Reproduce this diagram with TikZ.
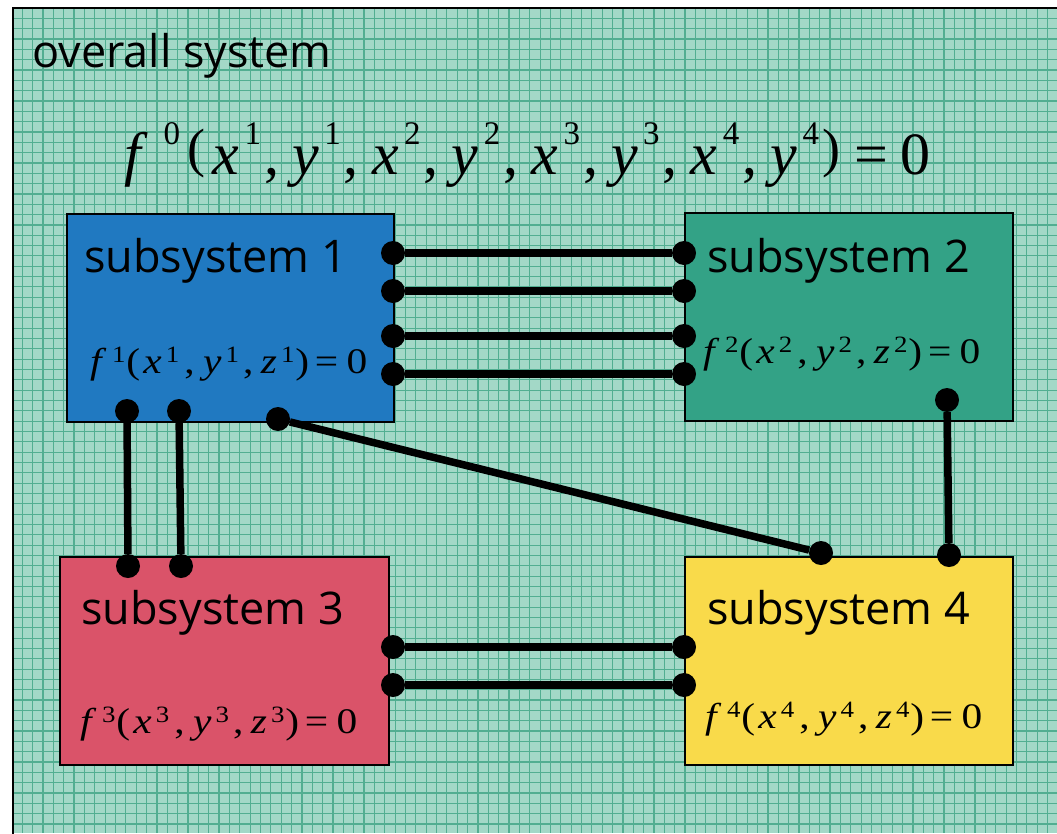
\documentclass[tikz,border=0pt]{standalone}
\usepackage{fontspec}
\setmainfont{Open Sans}
\newfontfamily\tms{Liberation Serif}
\definecolor{bgc}{HTML}{A3D8C7}
\definecolor{gridc}{HTML}{52AE91}
\definecolor{cblue}{HTML}{2079C1}
\definecolor{cgreen}{HTML}{33A286}
\definecolor{cred}{HTML}{DA5369}
\definecolor{cyellow}{HTML}{F9DA4A}
% small equations
\newcommand\ssp[1]{\raisebox{0.3em}{\scalebox{0.65}{#1}}}
\newcommand\smeq[1]{\scalebox{1.15}[1]{{\itshape f}\kern0.25em\ssp{#1}\kern0.02em(\kern0.08em{\itshape x}\kern0.1em\ssp{#1}\kern0.12em,\kern0.2em{\itshape y}\kern0.1em\ssp{#1}\kern0.1em,\kern0.18em{\itshape z}\kern0.1em\ssp{#1}\kern0.02em)\kern0.14em=\kern0.2em0}}
% big equation
\newcommand\bsp[1]{\raisebox{0.5em}{\scalebox{0.55}{#1}}}
\newcommand\bpar[1]{\raisebox{0.13em}{\scalebox{0.9}{#1}}}
\newcommand\bv[2]{{\itshape #1}\kern0.09em\bsp{#2}\kern0.05em,\kern0.22em}
\newcommand\bigeq{{\itshape f}\kern0.38em\bsp{0}\kern0.12em\bpar{(}\kern0.12em\bv{x}{1}\bv{y}{1}\bv{x}{2}\bv{y}{2}\bv{x}{3}\bv{y}{3}\bv{x}{4}{\itshape y}\kern0.09em\bsp{4}\kern0.05em\bpar{)}\kern0.24em=\kern0.2em0}
\begin{document}
\begin{tikzpicture}[x=1pt,y=-1pt,
  box/.style={draw=black, line width=2pt, inner sep=0pt, anchor=north west},
  dot/.style={circle, fill=black, inner sep=0pt, minimum size=24pt},
  wire/.style={line width=7.5pt},
  lbl/.style={anchor=base west, inner sep=0pt, font=\fontsize{45}{54}\selectfont},
  eq/.style={anchor=base west, inner sep=0pt, font=\fontsize{36}{42}\selectfont\tms},
  gridln/.style={draw=gridc, line width=1.2pt}]
\useasboundingbox (0,0) rectangle (1057,833);
\fill[white] (0,0) rectangle (1057,833);
\begin{scope}
  \clip (13,8) rectangle (1057,833);
  \fill[bgc] (13,8) rectangle (1057,833);
  \foreach \k in {0,...,102} {\draw[gridln] ({11.94+\k*10.356},8) -- ({11.94+\k*10.356},833);}
  \foreach \k in {0,...,82} {\draw[gridln] (13,{7.97+\k*10.33}) -- (1057,{7.97+\k*10.33});}
\end{scope}
\draw[line width=2pt] (13,840) -- (13,8) -- (1062,8);
% boxes
\node[box, fill=cblue, minimum width=327pt, minimum height=208pt] (s1) at (66,213) {};
\node[box, fill=cgreen, minimum width=328pt, minimum height=208pt] (s2) at (684,212) {};
\node[box, fill=cred, minimum width=329pt, minimum height=208pt] (s3) at (59,556) {};
\node[box, fill=cyellow, minimum width=328pt, minimum height=208pt] (s4) at (684,556) {};
% texts
\node[lbl] (title) at (32,67) {overall system};
\node[eq, font=\fontsize{60}{70}\selectfont\tms] (eq0) at (124,174) {\bigeq};
\node[lbl] (l1) at (84,272) {subsystem 1};
\node[lbl] (l2) at (707,272) {subsystem 2};
\node[lbl] (l3) at (81,624) {subsystem 3};
\node[lbl] (l4) at (707,624) {subsystem 4};
\node[eq] (e1) at (90,373) {\smeq{1}};
\node[eq] (e2) at (703,363) {\smeq{2}};
\node[eq] (e3) at (80,733) {\smeq{3}};
\node[eq] (e4) at (705,728) {\smeq{4}};
% connector ends
\node[dot] (p1a) at (393,253) {};
\node[dot] (p1b) at (393,291) {};
\node[dot] (p1c) at (393,336) {};
\node[dot] (p1d) at (393,374) {};
\node[dot] (p2a) at (684,253) {};
\node[dot] (p2b) at (684,291) {};
\node[dot] (p2c) at (684,336) {};
\node[dot] (p2d) at (684,374) {};
\node[dot] (p1e) at (127,411) {};
\node[dot] (p1f) at (179,411) {};
\node[dot] (p1g) at (278,419) {};
\node[dot] (p3a) at (128,566) {};
\node[dot] (p3b) at (181,566) {};
\node[dot] (p4a) at (821,553) {};
\node[dot] (p2e) at (947,400) {};
\node[dot] (p4b) at (949,555) {};
\node[dot] (p3c) at (393,647) {};
\node[dot] (p3d) at (393,685) {};
\node[dot] (p4c) at (684,647) {};
\node[dot] (p4d) at (684,685) {};
% wires
\draw[wire] (p1a) -- (p2a);
\draw[wire] (p1b) -- (p2b);
\draw[wire] (p1c) -- (p2c);
\draw[wire] (p1d) -- (p2d);
\draw[wire] (p1e) -- (p3a);
\draw[wire] (p1f) -- (p3b);
\draw[wire] (p1g) -- (p4a);
\draw[wire] (p2e) -- (p4b);
\draw[wire] (p3c) -- (p4c);
\draw[wire] (p3d) -- (p4d);
\end{tikzpicture}
\end{document}
